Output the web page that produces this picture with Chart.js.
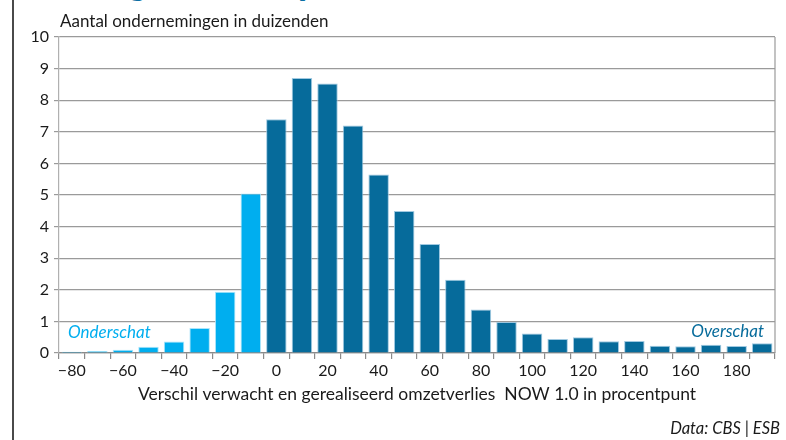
<!DOCTYPE html>
<html>
<head>
<meta charset="utf-8">
<script src="https://cdn.jsdelivr.net/npm/chart.js@4"></script>
<style>
  html, body { margin: 0; padding: 0; background: #fff; }
  #wrap { position: relative; width: 786px; height: 440px; overflow: hidden; }
  #frame { position: absolute; left: 12px; top: 0; width: 2px; height: 440px; background: #4a4a4a; }
  .head { position: absolute; font-family: Lato, sans-serif; font-weight: 900; font-size: 36px; color: #0b6fa4; line-height: 36px; }
  canvas { position: absolute; left: 0; top: 0; }
</style>
</head>
<body>
<div id="wrap">
  <div id="frame"></div>
  <span class="head" style="left:128px; top:-37px;">g</span>
  <span class="head" style="left:296px; top:-37px;">y</span>
  <canvas id="c" width="786" height="440"></canvas>
</div>
<script>
// ---- data ----
const categories = [-80, -70, -60, -50, -40, -30, -20, -10, 0, 10, 20, 30, 40, 50, 60, 70, 80, 90, 100, 110, 120, 130, 140, 150, 160, 170, 180, 190];
const counts = [0.04, 0.06, 0.10, 0.20, 0.36, 0.79, 1.94, 5.05, 7.40, 8.70, 8.53, 7.20, 5.65, 4.49, 3.45, 2.32, 1.38, 0.98, 0.62, 0.44, 0.50, 0.37, 0.38, 0.23, 0.21, 0.26, 0.22, 0.31];
const shownTicks = [-80, -60, -40, -20, 0, 20, 40, 60, 80, 100, 120, 140, 160, 180];
const yTicks = [0, 1, 2, 3, 4, 5, 6, 7, 8, 9, 10];

const yTitle = 'Aantal ondernemingen in duizenden';
const xTitle = 'Verschil verwacht en gerealiseerd omzetverlies  NOW 1.0 in procentpunt';
const sourceText = 'Data: CBS | ESB';
const underLabel = 'Onderschat';
const overLabel = 'Overschat';

const LIGHT = '#00aeef';
const DARK = '#066b9b';
const FONT = 'Lato, "Open Sans", sans-serif';

const fmt = v => (v < 0 ? '\u2212' + Math.abs(v) : String(v));

const textPlugin = {
  id: 'extraText',
  afterDraw(chart) {
    const ctx = chart.ctx;
    const a = chart.chartArea;
    ctx.save();
    // right frame of plot
    ctx.strokeStyle = '#9a9a9a';
    ctx.lineWidth = 1.2;
    ctx.beginPath();
    ctx.moveTo(a.right, a.top);
    ctx.lineTo(a.right, a.bottom);
    ctx.stroke();
    // y title above plot
    ctx.fillStyle = '#1a1a1a';
    ctx.font = '17px ' + FONT;
    ctx.textAlign = 'left';
    ctx.textBaseline = 'alphabetic';
    ctx.fillText(yTitle, a.left + 1, a.top - 10);
    // annotations
    ctx.font = 'italic 17px ' + FONT;
    ctx.fillStyle = LIGHT;
    ctx.fillText(underLabel, a.left + 9, a.bottom - 15);
    ctx.fillStyle = DARK;
    ctx.textAlign = 'right';
    ctx.fillText(overLabel, a.right - 11, a.bottom - 16);
    // source
    ctx.fillStyle = '#1a1a1a';
    ctx.font = 'italic 16.5px ' + FONT;
    ctx.fillText(sourceText, 780, 434);
    ctx.restore();
  }
};

new Chart(document.getElementById('c'), {
  type: 'bar',
  data: {
    labels: categories.map(String),
    datasets: [{
      data: counts,
      backgroundColor: categories.map(c => (c < 0 ? LIGHT : DARK)),
      borderColor: categories.map(c => (c < 0 ? 'rgba(160,225,250,0.9)' : 'rgba(150,195,222,0.9)')),
      borderWidth: 1,
      borderSkipped: 'bottom',
      categoryPercentage: 1.0,
      barPercentage: 0.8
    }]
  },
  options: {
    responsive: false,
    animation: false,
    devicePixelRatio: 1,
    layout: { padding: { left: 30, right: 11, top: 37, bottom: 0 } },
    plugins: {
      legend: { display: false },
      tooltip: { enabled: false }
    },
    scales: {
      x: {
        offset: true,
        grid: {
          offset: true,
          drawOnChartArea: false,
          drawTicks: true,
          tickLength: 6,
          color: '#8a8a8a',
          lineWidth: 1.2
        },
        border: { display: true, color: '#8a8a8a', width: 1.2 },
        ticks: {
          autoSkip: false,
          maxRotation: 0,
          padding: 2,
          color: '#1a1a1a',
          font: { family: FONT, size: 16 },
          callback: function (val, idx) {
            const c = categories[idx];
            return shownTicks.includes(c) ? fmt(c) : '';
          }
        },
        title: {
          display: true,
          text: xTitle,
          color: '#1a1a1a',
          font: { family: FONT, size: 17.5 },
          padding: { top: 0, bottom: 35 }
        },
        afterFit(scale) { scale.height = 87; }
      },
      y: {
        min: 0,
        max: 10,
        afterBuildTicks(scale) { scale.ticks = yTicks.map(v => ({ value: v })); },
        grid: {
          color: '#9a9a9a',
          lineWidth: 1.2,
          tickLength: 5,
          drawTicks: true
        },
        border: { display: true, color: '#b0b0b0', width: 1.2 },
        ticks: {
          padding: 5,
          color: '#1a1a1a',
          font: { family: FONT, size: 16 }
        },
        afterFit(scale) { scale.width = 29; }
      }
    }
  },
  plugins: [textPlugin]
});
</script>
</body>
</html>
